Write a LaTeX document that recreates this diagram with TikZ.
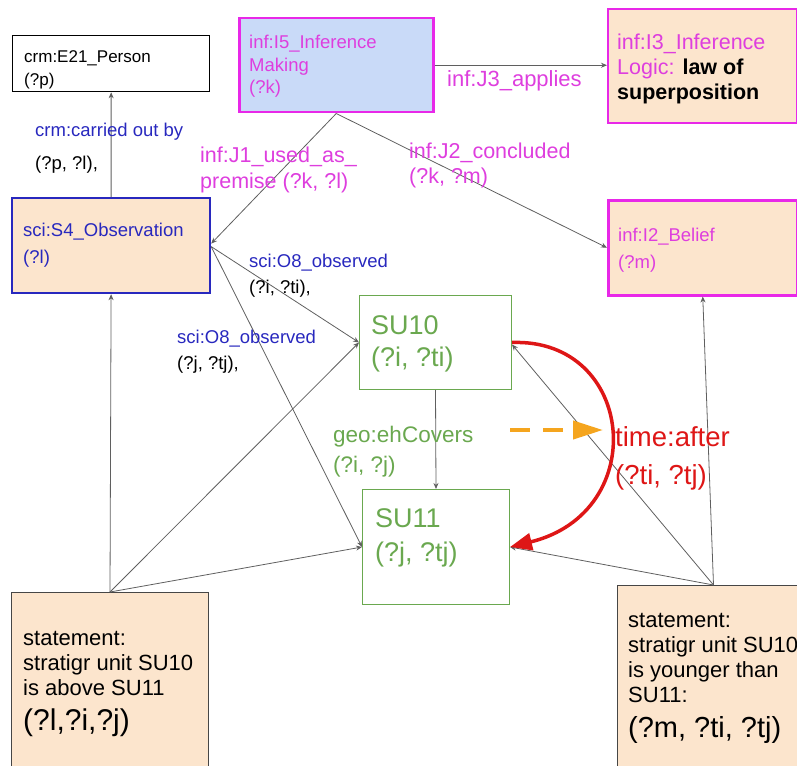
\documentclass[tikz,border=0pt]{standalone}
\usepackage{fontspec}
\setmainfont{Liberation Sans}
\usetikzlibrary{arrows.meta}
\definecolor{magb}{RGB}{232,40,232}
\definecolor{magt}{RGB}{222,62,222}
\definecolor{dblue}{RGB}{40,40,190}
\definecolor{grn}{RGB}{106,168,79}
\definecolor{peach}{RGB}{252,229,205}
\definecolor{lblue}{RGB}{201,218,248}
\definecolor{redc}{RGB}{222,22,22}
\definecolor{orng}{RGB}{245,165,30}
\definecolor{lgray}{RGB}{95,95,95}
\definecolor{dgray}{RGB}{70,70,70}
\newcommand{\fs}[2]{\fontsize{#1}{#2}\selectfont}
\begin{document}
\begin{tikzpicture}[x=1pt,y=-1pt,
  box/.style={draw, rectangle, inner sep=0pt, anchor=north west},
  lbl/.style={anchor=base west, inner sep=0pt, align=left},
  conn/.style={draw=lgray, line width=0.8pt, -{Stealth[length=6pt,width=5pt]}},
]
\useasboundingbox (0,0) rectangle (797,765);

% boxes
\node[box, draw=black, line width=1.3pt, minimum width=197pt, minimum height=56pt] (e21) at (12,35) {};
\node[box, draw=magb, fill=lblue, line width=2.5pt, minimum width=194pt, minimum height=94pt] (i5) at (238,17) {};
\node[box, draw=magb, fill=peach, line width=2pt, minimum width=189pt, minimum height=114pt] (i3) at (607,8) {};
\node[box, draw=dblue, fill=peach, line width=2.2pt, minimum width=198pt, minimum height=95pt] (s4) at (11,197) {};
\node[box, draw=magb, fill=peach, line width=2.5pt, minimum width=189pt, minimum height=95pt] (i2) at (607,199) {};
\node[box, draw=grn, line width=1pt, minimum width=152pt, minimum height=94pt] (su10) at (359,295) {};
\node[box, draw=grn, line width=1pt, minimum width=147pt, minimum height=115pt] (su11) at (362,489) {};
\node[box, draw=dgray, fill=peach, line width=1pt, minimum width=197pt, minimum height=200pt] (stl) at (11,592) {};
\node[box, draw=dgray, fill=peach, line width=1pt, minimum width=180pt, minimum height=200pt] (str) at (617,585) {};

% box texts (y = baseline of the last line)
\node[lbl, font=\fs{17}{23}] at (24,85.5) {crm:E21\_Person\\(?p)};
\node[lbl, font=\fs{18.5}{22.5}, text=magt] at (249,94) {inf:I5\_Inference\\Making\\(?k)};
\node[lbl, font=\fs{21.5}{25.5}, text=magt] at (617,100) {inf:I3\_Inference\\Logic: \textcolor{black}{\bfseries law of}\\\textcolor{black}{\bfseries superposition}};
\node[lbl, font=\fs{18.5}{27}, text=dblue] at (23,263) {sci:S4\_Observation\\(?l)};
\node[lbl, font=\fs{18.5}{27}, text=magt] at (618,268) {inf:I2\_Belief\\(?m)};
\node[lbl, font=\fs{27}{32}, text=grn] at (371,366) {SU10\\(?i, ?ti)};
\node[lbl, font=\fs{27}{34}, text=grn] at (375,561) {SU11\\(?j, ?tj)};
\node[lbl, font=\fs{22}{25}] at (23,730) {statement:\\stratigr unit SU10\\is above SU11\\[10pt]{\fs{30}{32}(?l,?i,?j)}};
\node[lbl, font=\fs{22}{25}] at (628,737) {statement:\\stratigr unit SU10\\is younger than\\SU11:\\[10pt]{\fs{29}{32}(?m, ?ti, ?tj)}};

% connectors
\draw[conn] (s4.north) -- (e21.south);
\draw[conn] (i5.south) -- ([yshift=2pt]s4.east);
\draw[conn] (i5.south) -- (i2.west);
\draw[conn] (i5.east) -- (i5.east -| i3.west);
\draw[conn] ([yshift=-1pt]s4.east) -- (su10.west);
\draw[conn] ([yshift=-1pt]s4.east) -- (su11.west);
\draw[conn] (stl.north) -- (s4.south);
\draw[conn] (stl.north) -- (su10.west);
\draw[conn] (stl.north) -- (su11.west);
\draw[conn] (su10.south) -- (su11.north);
\draw[conn] ([xshift=6pt]str.north) -- (i2.south);
\draw[conn] ([xshift=6pt]str.north) -- ([yshift=-2pt]su10.east);
\draw[conn] ([xshift=6pt]str.north) -- (su11.east);

% time:after red curve
\draw[draw=redc, line width=3.5pt, -{Triangle[length=22pt,width=17pt]}]
  (su10.east) .. controls (635,338) and (652,512) .. (su11.east);

% orange dashed arrow
\coordinate (oa) at (510,430);
\coordinate (ob) at (603,430);
\draw[draw=orng, line width=4pt, dash pattern=on 20pt off 13pt, -{Triangle[length=30pt,width=18pt]}] (oa) -- (ob);

% edge labels (y = baseline of the last line)
\node[lbl, font=\fs{18.5}{33}, text=dblue] at (35,169) {crm:carried out by\\\textcolor{black}{(?p, ?l),}};
\node[lbl, font=\fs{21.5}{26}, text=magt] at (200,188) {inf:J1\_used\_as\_\\premise (?k, ?l)};
\node[lbl, font=\fs{22}{26}, text=magt] at (447,87) {inf:J3\_applies};
\node[lbl, font=\fs{21.5}{25}, text=magt] at (409,183) {inf:J2\_concluded\\(?k, ?m)};
\node[lbl, font=\fs{18.5}{26}, text=dblue] at (249,293) {sci:O8\_observed\\\textcolor{black}{(?i, ?ti),}};
\node[lbl, font=\fs{18.5}{26}, text=dblue] at (177,369) {sci:O8\_observed\\\textcolor{black}{(?j, ?tj),}};
\node[lbl, font=\fs{22.5}{30}, text=grn] at (333,472) {geo:ehCovers\\(?i, ?j)};
\node[lbl, font=\fs{27.5}{38}, text=redc] at (615,484) {time:after\\(?ti, ?tj)};
\end{tikzpicture}
\end{document}
